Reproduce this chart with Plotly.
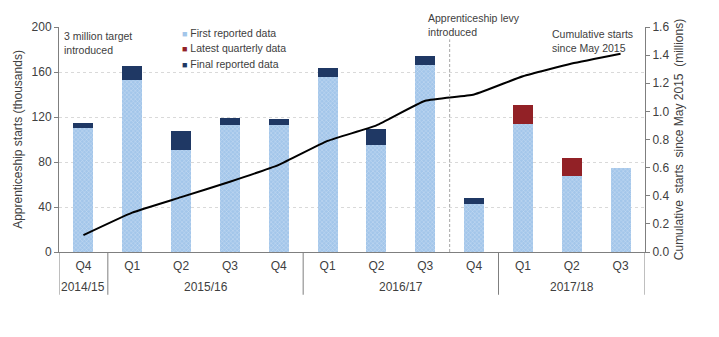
import plotly.graph_objects as go

quarters = ["Q4", "Q1", "Q2", "Q3", "Q4", "Q1", "Q2", "Q3", "Q4", "Q1", "Q2", "Q3"]
years = ["2014/15", "2015/16", "2015/16", "2015/16", "2015/16", "2016/17", "2016/17",
         "2016/17", "2016/17", "2017/18", "2017/18", "2017/18"]
first_reported = [110, 153, 91, 113, 113, 156, 95, 166, 43, 114, 68, 75]
final_total = [115, 165, 108, 119, 118, 164, 109, 174, 48, None, None, None]
latest_total = [None, None, None, None, None, None, None, None, None, 131, 84, None]
cumulative = [0.12, 0.28, 0.39, 0.50, 0.62, 0.79, 0.90, 1.075, 1.12, 1.25, 1.34, 1.41]

series_names = ["First reported data", "Latest quarterly data", "Final reported data"]
series_colors = ["#a3c6ea", "#922126", "#1f3864"]

x = list(range(len(quarters)))
final_inc = [(t - f) if t is not None else None for t, f in zip(final_total, first_reported)]
latest_inc = [(t - f) if t is not None else None for t, f in zip(latest_total, first_reported)]

FONT = "Liberation Sans, Arial, sans-serif"
TXT = "#404040"

fig = go.Figure()
fig.add_trace(go.Bar(
    x=x, y=first_reported, name=series_names[0], width=0.41, showlegend=False,
    marker=dict(color=series_colors[0], line=dict(width=0),
                pattern=dict(shape="x", size=3, solidity=0.25, fgcolor="#ffffff",
                             bgcolor=series_colors[0])),
))
fig.add_trace(go.Bar(
    x=x, y=latest_inc, name=series_names[1], width=0.41, showlegend=False,
    marker=dict(color=series_colors[1], line=dict(width=0)),
))
fig.add_trace(go.Bar(
    x=x, y=final_inc, name=series_names[2], width=0.41, showlegend=False,
    marker=dict(color=series_colors[2], line=dict(width=0)),
))
fig.add_trace(go.Scatter(
    x=x, y=cumulative, yaxis="y2", mode="lines", showlegend=False,
    line=dict(color="#000000", width=2, shape="spline", smoothing=0.4),
))

# legend as compact text entries
for k, (nm, col) in enumerate(zip(series_names, series_colors)):
    fig.add_annotation(x=0.206, y=0.973 - k * 0.0685, xref="paper", yref="paper",
                       xanchor="left", yanchor="middle", showarrow=False,
                       text=f'<span style="color:{col};font-size:9px">■</span> {nm}',
                       font=dict(size=10.5, color=TXT, family=FONT))

# group separators and year labels
groups = []
for i, yv in enumerate(years):
    if not groups or groups[-1][0] != yv:
        groups.append([yv, i, i])
    else:
        groups[-1][2] = i
for name, a, b in groups:
    fig.add_annotation(x=(a + b) / 2, y=0, xref="x", yref="paper", yanchor="middle", yshift=-35,
                       text=name, showarrow=False, font=dict(size=12, color=TXT, family=FONT))
bounds = [g[1] - 0.5 for g in groups] + [groups[-1][2] + 0.5]
for bx in bounds:
    fig.add_shape(type="line", x0=bx, x1=bx, xref="x", yref="paper", y0=0, y1=-0.19,
                  line=dict(color="#7f7f7f", width=1))

# apprenticeship levy line
fig.add_shape(type="line", x0=7.5, x1=7.5, xref="x", yref="paper", y0=0, y1=0.945,
              line=dict(color="#a6a6a6", width=1, dash="3px,2px"))

fig.add_annotation(x=-0.5, y=1.0, xref="x", yref="paper", xanchor="left", yanchor="top",
                   xshift=3, yshift=-1, align="left", showarrow=False,
                   text="3 million target<br>introduced", font=dict(size=10.5, color=TXT, family=FONT))
fig.add_annotation(x=7.5, y=1.0, xref="x", yref="paper", xanchor="left", yanchor="bottom",
                   xshift=-24, yshift=-13, align="left", showarrow=False,
                   text="Apprenticeship levy<br>introduced", font=dict(size=10.5, color=TXT, family=FONT))
fig.add_annotation(x=10.0, y=1.0, xref="x", yref="paper", xanchor="left", yanchor="top",
                   xshift=-22, yshift=1, align="left", showarrow=False,
                   text="Cumulative starts<br>since May 2015", font=dict(size=10.5, color=TXT, family=FONT))

fig.update_layout(
    width=719, height=337,
    margin=dict(l=59, r=74, t=27, b=85),
    paper_bgcolor="white", plot_bgcolor="white",
    barmode="stack", bargap=0.5,
    font=dict(family=FONT, size=12, color=TXT),
    showlegend=False,
    xaxis=dict(range=[-0.5, 11.5], tickvals=x, ticktext=quarters, showgrid=False,
               showline=True, linecolor="#7f7f7f", ticks="", zeroline=False,
               ticklabelstandoff=3, tickfont=dict(size=12, color=TXT)),
    yaxis=dict(range=[0, 200], dtick=40, showgrid=True, gridcolor="#d9d9d9", griddash="3px,3px",
               showline=True, linecolor="#7f7f7f", ticks="outside", ticklen=4, tickcolor="#7f7f7f",
               zeroline=False, tickfont=dict(size=12, color=TXT),
               title=dict(text="Apprenticeship starts (thousands)", standoff=6,
                          font=dict(size=12, color=TXT))),
    yaxis2=dict(range=[0, 1.6], dtick=0.2, tickformat=".1f", overlaying="y", side="right",
                showgrid=False, showline=True, linecolor="#7f7f7f", ticks="outside", ticklen=4,
                tickcolor="#7f7f7f", zeroline=False, tickfont=dict(size=12, color=TXT),
                title=dict(text="Cumulative  starts  since May 2015  (millions)", standoff=6,
                           font=dict(size=12, color=TXT))),
)

fig.write_html("out.html")
